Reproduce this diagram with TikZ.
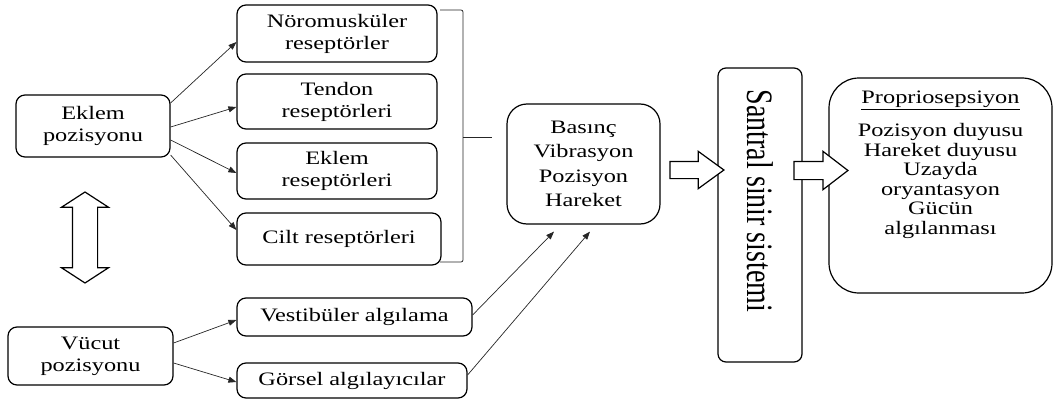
\documentclass[tikz,border=0pt]{standalone}
\usepackage{fontspec}
\setmainfont{Liberation Serif}[FakeStretch=1.28]
\newfontfamily\plainserif{Liberation Serif}
\usepackage{graphicx}
\usepackage{tikz}
\usetikzlibrary{shapes.geometric, shapes.arrows, arrows.meta, positioning, calc}
\tikzstyle{box} = [draw=black, line width=1.2pt, rounded corners=9pt, align=center, inner sep=0pt, font=\fontsize{19}{22}\selectfont]
\tikzstyle{arrow} = [-{Triangle[length=8pt, width=6pt]}, line width=0.7pt, black!85]
\tikzstyle{hollow} = [draw=black, line width=1.2pt, fill=white, inner xsep=0pt, minimum width=0pt]

\begin{document}
\begin{tikzpicture}[x=1pt, y=-1pt]
    \useasboundingbox (0,0) rectangle (1054,401);

    % Positions
    \node[box, minimum width=154pt, minimum height=62pt] (ekp) at (93,126) {Eklem\\pozisyonu};
    \node[box, minimum width=165pt, minimum height=58pt] (vup) at (90.5,356) {Vücut\\pozisyonu};
    \node[hollow, double arrow, rotate=90, minimum height=91pt, inner ysep=12pt,
          double arrow head extend=11pt, double arrow tip angle=114] (updown) at (85,237.5) {};

    % Receptors
    \node[box, minimum width=200pt, minimum height=57pt] (nor) at (337,33.5) {Nöromusküler\\reseptörler};
    \node[box, minimum width=200pt, minimum height=55pt] (ten) at (337,101.5) {Tendon\\reseptörleri};
    \node[box, minimum width=200pt, minimum height=56pt] (ekr) at (337,171) {Eklem\\reseptörleri};
    \node[box, minimum width=204pt, minimum height=52pt] (cil) at (339,239) {Cilt reseptörleri};
    \node[box, minimum width=235pt, minimum height=38pt] (ves) at (354.5,317) {Vestibüler algılama};
    \node[box, minimum width=230pt, minimum height=35pt] (gor) at (352,380.5) {Görsel algılayıcılar};

    % Arrows
    \draw[arrow] ([yshift=23pt]ekp.east) -- ([yshift=-8.5pt]nor.west);
    \draw[arrow] ([yshift=-1pt]ekp.east) -- ([yshift=-5.5pt]ten.west);
    \draw[arrow] ([yshift=-14pt]ekp.east) -- ([yshift=-2pt]ekr.west);
    \draw[arrow] ([yshift=-29pt]ekp.east) -- ([yshift=9pt]cil.west);
    \draw[arrow] ([yshift=13pt]vup.east) -- ([yshift=-3pt]ves.west);
    \draw[arrow] ([yshift=-7pt]vup.east) -- ([yshift=-1.5pt]gor.west);

    % Brace
    \draw[line width=0.8pt, black!85, rounded corners=2pt] (440,10) -- (463,10) -- (463,262) -- (440,262);
    \draw[line width=0.8pt, black!85] (463,137) -- (492,137);

    % Stimuli
    \node[box, rounded corners=20pt, minimum width=153pt, minimum height=120pt,
          font=\fontsize{19}{24.5}\selectfont] (bas) at (583.5,164) {Basınç\\Vibrasyon\\Pozisyon\\Hareket};
    \draw[arrow] ([yshift=2pt]ves.east) -- ([xshift=-29.5pt, yshift=-7pt]bas.south);
    \draw[arrow] ([yshift=5.5pt]gor.east) -- ([xshift=6.5pt, yshift=-7pt]bas.south);

    % Central nervous system
    \node[box, rounded corners=8pt, minimum width=84pt, minimum height=294pt] (cns) at (760,215)
        {\scalebox{1.33}[1]{\rotatebox{-90}{\plainserif\fontsize{28}{30}\selectfont Santral sinir sistemi\hspace*{28pt}}}};
    \node[box, rounded corners=30pt, minimum width=223pt, minimum height=215pt,
          font=\fontsize{19}{19.5}\selectfont] (pro) at (940.5,185.5)
        {\underline{Propriosepsiyon}\\[14pt]Pozisyon duyusu\\Hareket duyusu\\Uzayda\\oryantasyon\\Gücün\\algılanması\rule[-46pt]{0pt}{0pt}};

    % Block arrows
    \node[hollow, single arrow, minimum height=54pt, inner ysep=8pt,
          single arrow head extend=10pt, single arrow tip angle=72] (a1) at (691,170) {};
    \node[hollow, single arrow, minimum height=54pt, inner ysep=8.5pt,
          single arrow head extend=10pt, single arrow tip angle=75] (a2) at (815,170.5) {};
\end{tikzpicture}
\end{document}
